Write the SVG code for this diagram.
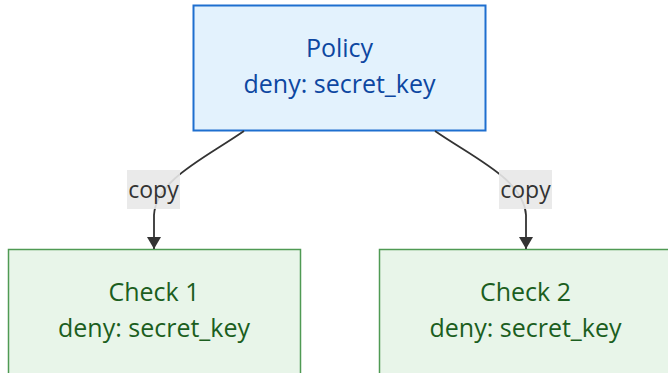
<svg xmlns="http://www.w3.org/2000/svg" width="668" height="373" viewBox="0 0 668 373">
<defs>
<style>
text{font-family:"Open Sans","Noto Sans","DejaVu Sans",sans-serif;font-size:25px;text-anchor:middle}
.policy rect{fill:#e3f2fd;stroke:#1e6fcf;stroke-width:2}
.policy text{fill:#0d47a1}
.check rect{fill:#e8f5e9;stroke:#4f9a54;stroke-width:1.5}
.check text{fill:#1b5e20}
.edge{fill:none;stroke:#333;stroke-width:1.8}
.lbl rect{fill:#e8e8e8;opacity:0.9}
.lbl text{fill:#333;font-size:23px}
</style>
<marker id="arr" viewBox="0 0 12 14" refX="12" refY="7" markerWidth="12" markerHeight="14" markerUnits="userSpaceOnUse" orient="auto">
<path d="M0,0 L12,7 L0,14 z" fill="#333"/>
</marker>
</defs>
<g id="policy" class="policy">
<rect x="193.5" y="5.5" width="292" height="125"/>
<text x="339.5" y="57">Policy</text>
<text x="339.5" y="93">deny: secret_key</text>
</g>
<g id="check1" class="check">
<rect x="8.5" y="249.5" width="292" height="130"/>
<text x="154" y="301">Check 1</text>
<text x="154" y="337">deny: secret_key</text>
</g>
<g id="check2" class="check">
<rect x="379.5" y="249.5" width="292" height="130"/>
<text x="525.5" y="301">Check 2</text>
<text x="525.5" y="337">deny: secret_key</text>
</g>
<g id="connectors">
<path class="edge" d="M244,131 C205,158 156,180 154,215 L154,249" marker-end="url(#arr)"/>
<path class="edge" d="M435,131 C474,158 524,180 526,215 L526,249" marker-end="url(#arr)"/>
<g class="lbl">
<rect x="127" y="170" width="53" height="39"/>
<text x="153.5" y="198">copy</text>
<rect x="499" y="170" width="53" height="39"/>
<text x="525.5" y="198">copy</text>
</g>
</g>
</svg>
